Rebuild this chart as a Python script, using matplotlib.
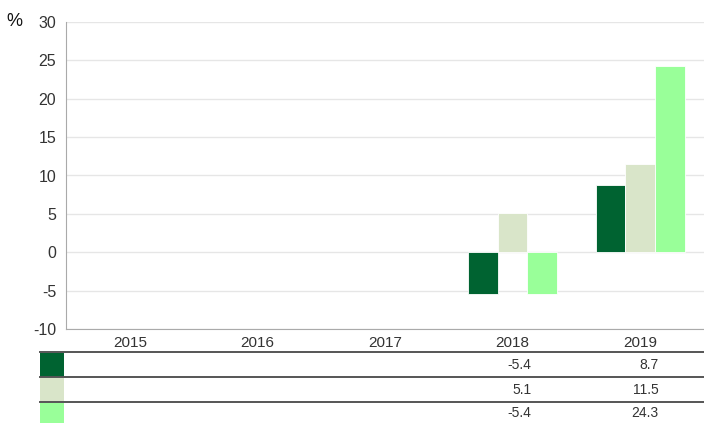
import matplotlib.pyplot as plt
import matplotlib.transforms as mtransforms
from matplotlib.patches import Rectangle
from matplotlib.lines import Line2D
import numpy as np

plt.rcParams['font.family'] = ['Liberation Sans', 'DejaVu Sans']

years = ["2015", "2016", "2017", "2018", "2019"]
series_a = [np.nan, np.nan, np.nan, -5.4, 8.7]
series_b = [np.nan, np.nan, np.nan, 5.1, 11.5]
series_c = [np.nan, np.nan, np.nan, -5.4, 24.3]
colors = ["#006331", "#d9e5c9", "#99ff99"]
y_ticks = [-10, -5, 0, 5, 10, 15, 20, 25, 30]

W, H = 704, 423
fig = plt.figure(figsize=(W / 100, H / 100), dpi=100)
ax = fig.add_axes([66 / W, 1 - 329 / H, (W - 66) / W, (329 - 22) / H])

x = np.arange(len(years))
bw = 0.233
for i, (vals, c) in enumerate(zip([series_a, series_b, series_c], colors)):
    ax.bar(x + (i - 1) * bw, vals, width=bw, color=c, edgecolor="white", linewidth=0.6, zorder=3)

ax.set_xlim(-0.5, len(years) - 0.5)
ax.set_ylim(-10, 30)
ax.set_yticks(y_ticks)
ax.set_yticklabels([str(t) for t in y_ticks], fontsize=11.5, color="#333333")
ax.set_xticks(x)
ax.set_xticklabels(years, fontsize=11, color="#333333")
ax.tick_params(axis="x", length=0, pad=5)
ax.tick_params(axis="y", length=0, pad=7)
ax.grid(axis="y", color="#e6e6e6", linewidth=1, zorder=0)
for s in ["top", "right"]:
    ax.spines[s].set_visible(False)
ax.spines["left"].set_color("#aaaaaa")
ax.spines["bottom"].set_color("#aaaaaa")

fig.text(14 / W, 1 - 21 / H, "%", fontsize=13, color="#111111", ha="center", va="center")

# table under the chart
trans = mtransforms.blended_transform_factory(ax.transData, fig.transFigure)
row_tops = [352, 377, 402]
row_bottoms = [377, 402, 423]
for i, (vals, c) in enumerate(zip([series_a, series_b, series_c], colors)):
    top, bot = row_tops[i], row_bottoms[i]
    fig.add_artist(Line2D([40 / W, 1], [1 - top / H] * 2, color="#555555", linewidth=1.4))
    fig.add_artist(Rectangle((40 / W, 1 - bot / H), 24 / W, (bot - top - 1) / H,
                             facecolor=c, edgecolor="none", transform=fig.transFigure))
    yc = 1 - (top + bot) / 2 / H
    for j, v in enumerate(vals):
        if not np.isnan(v):
            ax.text(j + 0.145, yc, f"{v:.1f}", transform=trans, ha="right", va="center",
                    fontsize=10, color="#333333")

fig.savefig("out.png", dpi=100)
